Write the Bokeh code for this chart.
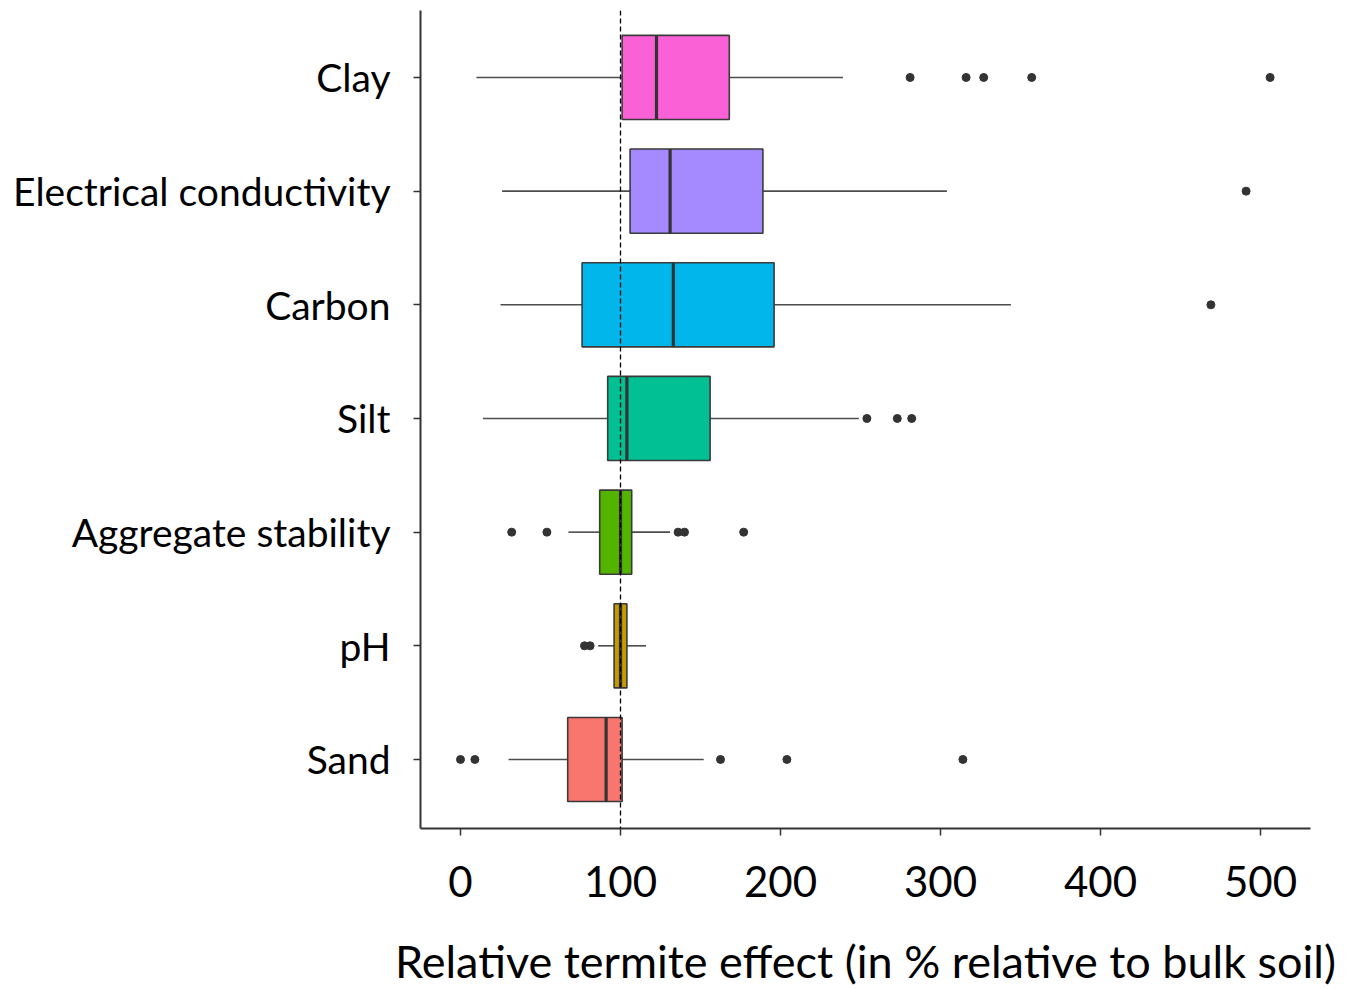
from bokeh.plotting import figure
from bokeh.models import Range1d, FixedTicker, Span, ColumnDataSource
from bokeh.embed import file_html
from bokeh.resources import INLINE

# ---- data ----
categories = ["Sand", "pH", "Aggregate stability", "Silt", "Carbon",
              "Electrical conductivity", "Clay"]
colors = ["#F8766D", "#C49A00", "#53B400", "#00C094", "#00B6EB",
          "#A58AFF", "#FB61D7"]
whisker_low = [30, 86, 67.5, 14, 25, 26, 10]
q1 = [67, 96, 87, 92, 76, 106, 101]
median = [91, 100, 100, 104, 133, 131, 122.5]
q3 = [101, 104, 107, 156, 196, 189, 168]
whisker_high = [152, 116, 131, 249, 344, 304, 239]

outlier_cat = ["Sand", "Sand", "Sand", "Sand", "Sand",
               "pH", "pH",
               "Aggregate stability", "Aggregate stability", "Aggregate stability",
               "Aggregate stability", "Aggregate stability",
               "Silt", "Silt", "Silt",
               "Carbon",
               "Electrical conductivity",
               "Clay", "Clay", "Clay", "Clay", "Clay"]
outlier_val = [0, 9, 162.5, 204, 314,
               77.5, 81,
               32, 54, 136, 140, 177,
               254, 273, 282,
               469,
               491,
               281, 316, 327, 357, 506]

x_ticks = [0, 100, 200, 300, 400, 500]

FONT = "Lato"

pos = {c: i + 1 for i, c in enumerate(categories)}
ypos = [pos[c] for c in categories]
half = 0.37

p = figure(width=1339, height=990, output_backend="svg", toolbar_location=None,
           x_range=Range1d(-25, 531.25), y_range=Range1d(0.393, 7.589),
           min_border_left=420, min_border_right=29, min_border_top=10,
           min_border_bottom=160)
p.outline_line_color = None
p.xgrid.visible = False
p.ygrid.visible = False
p.background_fill_color = "white"

src = ColumnDataSource(dict(y=ypos, lo=whisker_low, q1=q1, med=median, q3=q3,
                            hi=whisker_high, color=colors,
                            ylo=[v - half for v in ypos],
                            yhi=[v + half for v in ypos]))

# whiskers
p.segment(x0="lo", y0="y", x1="q1", y1="y", source=src,
          line_color="#4d4d4d", line_width=1.6)
p.segment(x0="q3", y0="y", x1="hi", y1="y", source=src,
          line_color="#4d4d4d", line_width=1.6)
# boxes
p.hbar(y="y", left="q1", right="q3", height=2 * half, source=src,
       fill_color="color", line_color="#3a3a3a", line_width=1.6)
# medians
p.segment(x0="med", y0="ylo", x1="med", y1="yhi", source=src,
          line_color="#333333", line_width=3.2)
# outliers
p.scatter(x=outlier_val, y=[pos[c] for c in outlier_cat], size=8,
          fill_color="#333333", line_color="#333333")

# reference line at 100
p.add_layout(Span(location=100, dimension="height", line_color="black",
                  line_width=1.3, line_dash="5 3"))

# axes
p.xaxis.ticker = FixedTicker(ticks=x_ticks)
p.xaxis.minor_tick_line_color = None
p.xaxis.major_tick_in = 0
p.xaxis.major_tick_out = 7
p.xaxis.axis_line_color = "#333333"
p.xaxis.axis_line_width = 2
p.xaxis.major_tick_line_color = "#333333"
p.xaxis.major_tick_line_width = 1.5
p.xaxis.major_label_text_font = FONT
p.xaxis.major_label_text_font_size = "42px"
p.xaxis.major_label_text_color = "black"
p.xaxis.major_label_standoff = 30
p.xaxis.axis_label = "Relative termite effect (in % relative to bulk soil)"
p.xaxis.axis_label_text_font = FONT
p.xaxis.axis_label_text_font_size = "45px"
p.xaxis.axis_label_text_font_style = "normal"
p.xaxis.axis_label_text_color = "black"
p.xaxis.axis_label_standoff = 34

p.yaxis.ticker = FixedTicker(ticks=ypos)
p.yaxis.major_label_overrides = {pos[c]: c for c in categories}
p.yaxis.minor_tick_line_color = None
p.yaxis.major_tick_in = 0
p.yaxis.major_tick_out = 7
p.yaxis.axis_line_color = "#333333"
p.yaxis.axis_line_width = 2
p.yaxis.major_tick_line_color = "#333333"
p.yaxis.major_tick_line_width = 1.5
p.yaxis.major_label_text_font = FONT
p.yaxis.major_label_text_font_size = "39px"
p.yaxis.major_label_text_color = "black"
p.yaxis.major_label_standoff = 23

open("out.html", "w").write(file_html(p, INLINE))
